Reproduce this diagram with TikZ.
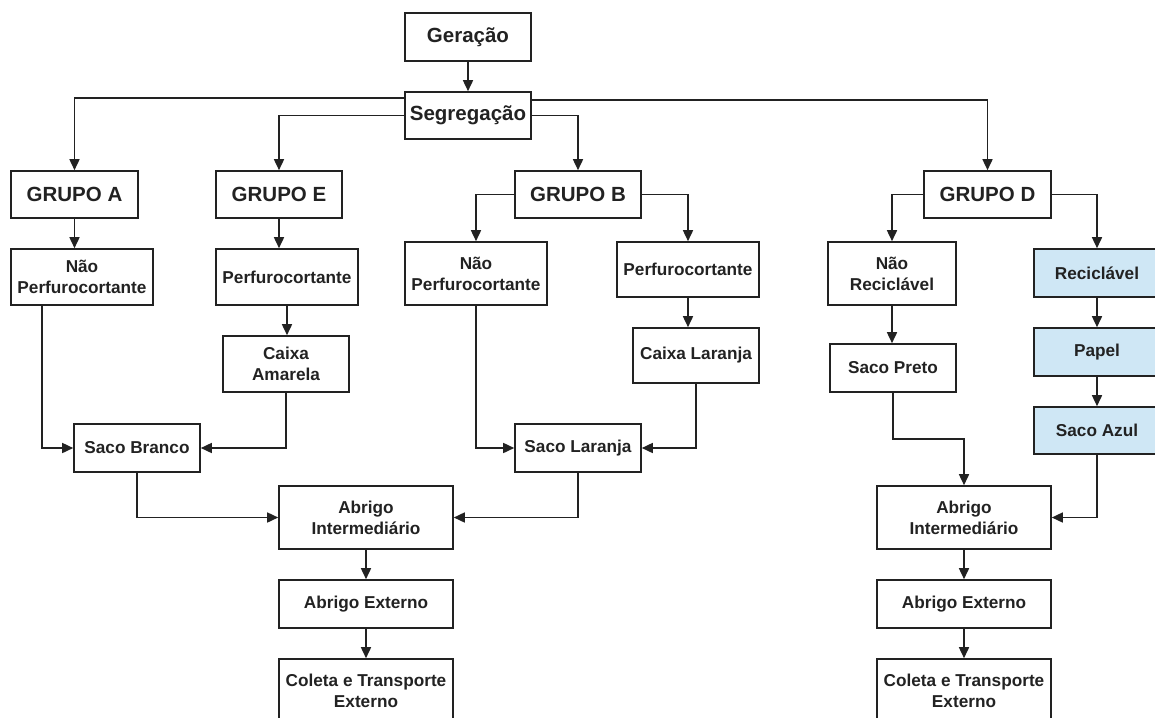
\documentclass[tikz,border=0pt]{standalone}
\usepackage{fontspec}
\setmainfont{Liberation Sans}
\usetikzlibrary{arrows.meta}
\definecolor{lblue}{RGB}{207,231,245}
\definecolor{ink}{RGB}{34,34,34}
\tikzset{
  box/.style={draw=ink, line width=1.6pt, fill=white, rectangle, inner sep=0pt, align=center,
    text=ink, font=\bfseries\fontsize{17.2}{21}\selectfont},
  big/.style={font=\bfseries\fontsize{20.5}{24}\selectfont},
  blue/.style={fill=lblue},
  conn/.style={draw=ink, line width=1.6pt, -{Triangle[length=11pt,width=10pt]}},
}
\begin{document}
\begin{tikzpicture}[x=1pt,y=-1pt]
\useasboundingbox (0,0) rectangle (1155,717);
\fill[white] (0,0) rectangle (1155,717);
% level 0/1
\node[box,big,minimum width=126,minimum height=48] (gen) at (468,37) {Geração};
\node[box,big,minimum width=126,minimum height=47] (seg) at (468,115.5) {Segregação};
% groups
\node[box,big,minimum width=127,minimum height=47] (gA) at (74.5,194.5) {GRUPO A};
\node[box,big,minimum width=126,minimum height=47] (gE) at (279,194.5) {GRUPO E};
\node[box,big,minimum width=126,minimum height=47] (gB) at (578,194.5) {GRUPO B};
\node[box,big,minimum width=127,minimum height=47] (gD) at (987.5,194.5) {GRUPO D};
% level 3
\node[box,minimum width=142,minimum height=56] (npA) at (82,277) {Não\\Perfurocortante};
\node[box,minimum width=142,minimum height=56] (pE) at (287,277) {Perfurocortante};
\node[box,minimum width=142,minimum height=63] (npB) at (476,273.5) {Não\\Perfurocortante};
\node[box,minimum width=142,minimum height=55] (pB) at (688,269.5) {Perfurocortante};
\node[box,minimum width=128,minimum height=63] (nrD) at (892,273.5) {Não\\Reciclável};
\node[box,blue,minimum width=126,minimum height=48] (rec) at (1097,273) {Reciclável};
% level 4
\node[box,minimum width=126,minimum height=56] (cam) at (286,364) {Caixa\\Amarela};
\node[box,minimum width=126,minimum height=55] (cla) at (696,355.5) {Caixa Laranja};
\node[box,minimum width=126,minimum height=48] (spr) at (893,368) {Saco Preto};
\node[box,blue,minimum width=126,minimum height=48] (pap) at (1097,352) {Papel};
\node[box,blue,minimum width=126,minimum height=47] (saz) at (1097,430.5) {Saco Azul};
% bags
\node[box,minimum width=126,minimum height=48] (sbr) at (137,448) {Saco Branco};
\node[box,minimum width=126,minimum height=48] (sla) at (578,448) {Saco Laranja};
% storage
\node[box,minimum width=174,minimum height=63] (aiL) at (366,517.5) {Abrigo\\Intermediário};
\node[box,minimum width=174,minimum height=48] (aeL) at (366,604) {Abrigo Externo};
\node[box,minimum width=174,minimum height=63] (ctL) at (366,690.5) {Coleta e Transporte\\Externo};
\node[box,minimum width=174,minimum height=63] (aiR) at (964,517.5) {Abrigo\\Intermediário};
\node[box,minimum width=174,minimum height=48] (aeR) at (964,604) {Abrigo Externo};
\node[box,minimum width=174,minimum height=63] (ctR) at (964,690.5) {Coleta e Transporte\\Externo};
% connectors
\draw[conn] (gen.south) -- (seg.north);
\draw[conn] ([yshift=-7pt]seg.north west) -| (gA.north);
\draw[conn] (seg.west) -| (gE.north);
\draw[conn] (seg.east) -| (gB.north);
\draw[conn] ([yshift=-9pt]seg.north east) -| (gD.north);
\draw[conn] (gA.south) -- (gA.south |- npA.north);
\draw[conn] (gE.south) -- (gE.south |- pE.north);
\draw[conn] (gB.west) -| (npB.north);
\draw[conn] (gB.east) -| (pB.north);
\draw[conn] (gD.west) -| (nrD.north);
\draw[conn] (gD.east) -| (rec.north);
\draw[conn] ([xshift=-40pt]npA.south) |- (sbr.west);
\draw[conn] (pE.south) -- (pE.south |- cam.north);
\draw[conn] (cam.south) |- (sbr.east);
\draw[conn] (sbr.south) |- (aiL.west);
\draw[conn] (npB.south) |- (sla.west);
\draw[conn] (pB.south) -- (pB.south |- cla.north);
\draw[conn] (cla.south) |- (sla.east);
\draw[conn] (sla.south) |- (aiL.east);
\draw[conn] (aiL.south) -- (aeL.north);
\draw[conn] (aeL.south) -- (ctL.north);
\draw[conn] (nrD.south) -- (nrD.south |- spr.north);
\draw[conn] (spr.south) -- ++(0,46) -| (aiR.north);
\draw[conn] (rec.south) -- (pap.north);
\draw[conn] (pap.south) -- (saz.north);
\draw[conn] (saz.south) |- (aiR.east);
\draw[conn] (aiR.south) -- (aeR.north);
\draw[conn] (aeR.south) -- (ctR.north);
\end{tikzpicture}
\end{document}
